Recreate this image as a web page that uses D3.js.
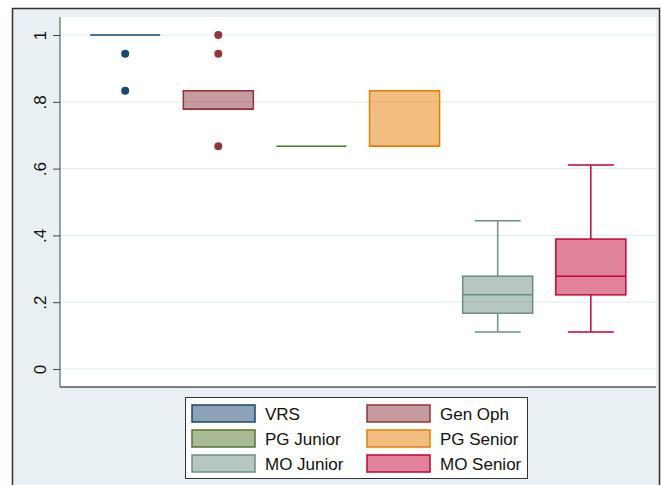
<!DOCTYPE html>
<html>
<head>
<meta charset="utf-8">
<script src="https://cdn.jsdelivr.net/npm/d3@7"></script>
<style>
  body { margin: 0; background: #fff; }
  text { font-family: "Liberation Sans", Arial, sans-serif; }
</style>
</head>
<body>
<div id="chart"></div>
<script>
// Data
var groups = ["VRS", "Gen Oph", "PG Junior", "PG Senior", "MO Junior", "MO Senior"];
var lowWhisker = [1, 0.778, 0.667, 0.667, 0.111, 0.111];
var q1 = [1, 0.778, 0.667, 0.667, 0.167, 0.222];
var median = [1, 0.778, 0.667, 0.667, 0.222, 0.278];
var q3 = [1, 0.833, 0.667, 0.833, 0.278, 0.389];
var highWhisker = [1, 0.833, 0.667, 0.833, 0.444, 0.611];
var outliers = [[0.944, 0.833], [1, 0.944, 0.667], [], [], [], []];
var yTicks = [0, 0.2, 0.4, 0.6, 0.8, 1];
var lineColors = ["#1a476f", "#90353b", "#55752f", "#e37e00", "#6e8e84", "#c10534"];

var svgWidth = 661;
var svgHeight = 485;

var plot = { left: 60, right: 656, top: 17, bottom: 387 };

var svg = d3.select("#chart")
    .append("svg")
    .attr("width", svgWidth)
    .attr("height", svgHeight);

// Outer graph region
svg.append("rect")
    .attr("x", 12.5)
    .attr("y", 8.5)
    .attr("width", 647)
    .attr("height", 490)
    .attr("fill", "#e8f0f3")
    .attr("stroke", "#333")
    .attr("stroke-width", 1.5);

// Plot region
svg.append("rect")
    .attr("x", plot.left)
    .attr("y", plot.top)
    .attr("width", plot.right - plot.left)
    .attr("height", plot.bottom - plot.top)
    .attr("fill", "#fff");

var x = d3.scalePoint()
    .domain(groups)
    .range([plot.left, plot.right])
    .padding(0.7);

var y = d3.scaleLinear()
    .domain([0, 1])
    .range([369, 35]);

// Grid lines
svg.append("g").selectAll("line")
    .data(yTicks)
    .enter()
    .append("line")
    .attr("x1", plot.left)
    .attr("x2", plot.right)
    .attr("y1", d => y(d))
    .attr("y2", d => y(d))
    .attr("stroke", "#e4eef2")
    .attr("stroke-width", 1.2);

// Y axis
var leftAxis = d3.axisLeft(y)
    .tickValues(yTicks)
    .tickSize(7)
    .tickFormat(d => d === 0 ? "0" : d === 1 ? "1" : d3.format(".1f")(d).replace(/^0/, ""));

var yAxis = svg.append("g")
    .attr("transform", `translate(${plot.left}, 0)`)
    .call(leftAxis);

yAxis.select(".domain")
    .attr("stroke", "#444")
    .attr("d", `M0,${plot.top}V${plot.bottom}`);
yAxis.selectAll(".tick line").attr("stroke", "#444");
yAxis.selectAll(".tick text")
    .attr("x", 0)
    .attr("y", 0)
    .attr("dy", 0)
    .attr("transform", "translate(-14, 0) rotate(-90)")
    .attr("text-anchor", "middle")
    .attr("font-size", 17)
    .attr("fill", "#111");

// Bottom border of plot
svg.append("line")
    .attr("x1", plot.left)
    .attr("x2", plot.right)
    .attr("y1", plot.bottom)
    .attr("y2", plot.bottom)
    .attr("stroke", "#555")
    .attr("stroke-width", 1.5);

var boxWidth = 70;
var capWidth = 46;

var boxes = svg.append("g").selectAll("g")
    .data(groups)
    .enter()
    .append("g");

// Whiskers
boxes.append("line")
    .attr("x1", d => x(d))
    .attr("x2", d => x(d))
    .attr("y1", (d, i) => y(highWhisker[i]))
    .attr("y2", (d, i) => y(q3[i]))
    .attr("stroke", (d, i) => lineColors[i])
    .attr("stroke-width", 1.5);
boxes.append("line")
    .attr("x1", d => x(d))
    .attr("x2", d => x(d))
    .attr("y1", (d, i) => y(q1[i]))
    .attr("y2", (d, i) => y(lowWhisker[i]))
    .attr("stroke", (d, i) => lineColors[i])
    .attr("stroke-width", 1.5);
boxes.filter((d, i) => highWhisker[i] > q3[i])
    .append("line")
    .attr("x1", d => x(d) - capWidth / 2)
    .attr("x2", d => x(d) + capWidth / 2)
    .attr("y1", d => y(highWhisker[groups.indexOf(d)]))
    .attr("y2", d => y(highWhisker[groups.indexOf(d)]))
    .attr("stroke", d => lineColors[groups.indexOf(d)])
    .attr("stroke-width", 1.5);
boxes.filter((d, i) => lowWhisker[i] < q1[i])
    .append("line")
    .attr("x1", d => x(d) - capWidth / 2)
    .attr("x2", d => x(d) + capWidth / 2)
    .attr("y1", d => y(lowWhisker[groups.indexOf(d)]))
    .attr("y2", d => y(lowWhisker[groups.indexOf(d)]))
    .attr("stroke", d => lineColors[groups.indexOf(d)])
    .attr("stroke-width", 1.5);

// Boxes
boxes.append("rect")
    .attr("x", d => x(d) - boxWidth / 2)
    .attr("y", (d, i) => y(q3[i]))
    .attr("width", boxWidth)
    .attr("height", (d, i) => y(q1[i]) - y(q3[i]))
    .attr("fill", (d, i) => lineColors[i])
    .attr("fill-opacity", 0.5)
    .attr("stroke", (d, i) => lineColors[i])
    .attr("stroke-width", 1.5);

// Median
boxes.append("line")
    .attr("x1", d => x(d) - boxWidth / 2)
    .attr("x2", d => x(d) + boxWidth / 2)
    .attr("y1", (d, i) => y(median[i]))
    .attr("y2", (d, i) => y(median[i]))
    .attr("stroke", (d, i) => lineColors[i])
    .attr("stroke-width", 1.5);

// Outliers
boxes.each(function(d, i) {
    d3.select(this).selectAll("circle")
        .data(outliers[i])
        .enter()
        .append("circle")
        .attr("cx", x(d))
        .attr("cy", v => y(v))
        .attr("r", 4)
        .attr("fill", lineColors[i]);
});

// Legend
var legend = svg.append("g");
legend.append("rect")
    .attr("x", 185.5)
    .attr("y", 397.5)
    .attr("width", 342)
    .attr("height", 81)
    .attr("fill", "#fff")
    .attr("stroke", "#333")
    .attr("stroke-width", 1);

var legendItems = legend.selectAll("g")
    .data(groups)
    .enter()
    .append("g")
    .attr("transform", (d, i) => `translate(${i % 2 === 0 ? 192 : 367}, ${405 + Math.floor(i / 2) * 25})`);

legendItems.append("rect")
    .attr("width", 63)
    .attr("height", 17)
    .attr("fill", (d, i) => lineColors[i])
    .attr("fill-opacity", 0.5)
    .attr("stroke", (d, i) => lineColors[i])
    .attr("stroke-width", 1.5);

legendItems.append("text")
    .attr("x", 73)
    .attr("y", 14.5)
    .attr("font-size", 17)
    .attr("fill", "#111")
    .text(d => d);
</script>
</body>
</html>
